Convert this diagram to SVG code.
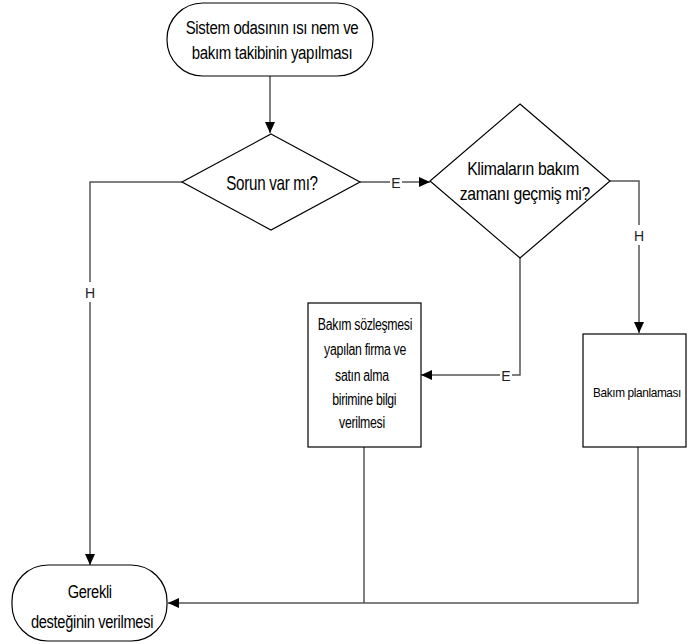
<svg xmlns="http://www.w3.org/2000/svg" width="689" height="644" viewBox="0 0 689 644">
<style>
.shape{fill:#fff;stroke:#000;stroke-width:1.2}
.conn{fill:none;stroke:#555;stroke-width:1.5}
.t{font-family:"Liberation Sans",Arial,sans-serif;fill:#000;text-anchor:middle;letter-spacing:-0.4px}
.lbl{font-family:"Liberation Sans",Arial,sans-serif;font-size:14px;fill:#222;text-anchor:middle}
.bg{fill:#fff;stroke:none}
</style>
<defs>
<marker id="arr" markerWidth="12" markerHeight="10" refX="11" refY="5" orient="auto" markerUnits="userSpaceOnUse">
<path d="M0,0 L11,5 L0,10 Z" fill="#000"/>
</marker>
</defs>
<g id="connectors">
<path class="conn" d="M270,76 V133" marker-end="url(#arr)"/>
<path class="conn" d="M182,182 H90 V565" marker-end="url(#arr)"/>
<path class="conn" d="M360,182 H430" marker-end="url(#arr)"/>
<path class="conn" d="M610,181 H639 V333" marker-end="url(#arr)"/>
<path class="conn" d="M520,258 V375 H421" marker-end="url(#arr)"/>
<path class="conn" d="M364,447 V603"/>
<path class="conn" d="M638,447 V603 H168" marker-end="url(#arr)"/>
<rect class="bg" x="84" y="282" width="12" height="20"/>
<text class="lbl" x="90" y="298">H</text>
<rect class="bg" x="390" y="173" width="12" height="18"/>
<text class="lbl" x="396" y="188">E</text>
<rect class="bg" x="633" y="225" width="12" height="20"/>
<text class="lbl" x="639" y="241">H</text>
<rect class="bg" x="500" y="366" width="12" height="18"/>
<text class="lbl" x="506" y="381">E</text>
</g>
<g id="start">
<rect class="shape" x="167" y="3" width="206" height="73" rx="36" ry="36"/>
<g transform="translate(272,0) scale(0.79,1)">
<text class="t" x="0" y="34" font-size="19">Sistem odasının ısı nem ve</text>
<text class="t" x="0" y="59" font-size="19">bakım takibinin yapılması</text>
</g>
</g>
<g id="decision1">
<polygon class="shape" points="271,134 360,182 271,230 182,182"/>
<g transform="translate(272,0) scale(0.76,1)">
<text class="t" x="0" y="190" font-size="20">Sorun var mı?</text>
</g>
</g>
<g id="decision2">
<polygon class="shape" points="520,104 610,181 520,258 430,181"/>
<g transform="translate(524,0) scale(0.83,1)">
<text class="t" x="-1" y="175" font-size="19">Klimaların bakım</text>
<text class="t" x="1" y="200" font-size="19">zamanı geçmiş mi?</text>
</g>
</g>
<g id="process1">
<rect class="shape" x="308" y="303" width="113" height="144"/>
<g transform="translate(365,0) scale(0.77,1)">
<text class="t" x="0" y="330" font-size="16">Bakım sözleşmesi</text>
<text class="t" x="0" y="355" font-size="16">yapılan firma ve</text>
<text class="t" x="-4" y="381" font-size="16">satın alma</text>
<text class="t" x="-1" y="405" font-size="16">birimine bilgi</text>
<text class="t" x="-4" y="428" font-size="16">verilmesi</text>
</g>
</g>
<g id="process2">
<rect class="shape" x="583" y="334" width="103" height="113"/>
<g transform="translate(637,0) scale(0.91,1)">
<text class="t" x="0" y="397" font-size="13">Bakım planlaması</text>
</g>
</g>
<g id="end">
<rect class="shape" x="12" y="565" width="155" height="76" rx="36" ry="36"/>
<g transform="translate(92,0) scale(0.77,1)">
<text class="t" x="-3" y="598" font-size="19">Gerekli</text>
<text class="t" x="0" y="628" font-size="19">desteğinin verilmesi</text>
</g>
</g>
</svg>
